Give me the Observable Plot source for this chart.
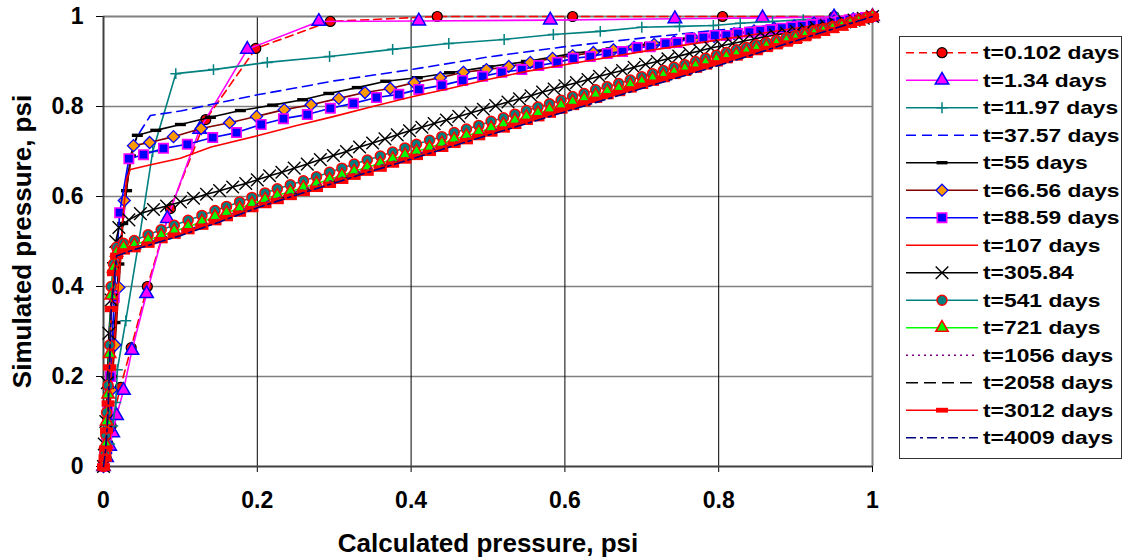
<!DOCTYPE html>
<html><head><meta charset="utf-8">
<script src="https://cdn.jsdelivr.net/npm/d3@7"></script>
<script src="https://cdn.jsdelivr.net/npm/@observablehq/plot@0.6"></script>
<style>
body{margin:0;background:#fff;}
#wrap{position:relative;width:1127px;height:559px;overflow:hidden;font-family:"Liberation Sans",Arial,sans-serif;background:#fff;}
#chart{position:absolute;left:0;top:0;}
#legend{position:absolute;left:899px;top:36px;}
</style></head>
<body><div id="wrap"><div id="chart"></div><svg id="legend" width="224" height="424"></svg></div>
<script>
// ---------- data ----------
const seriesNames = ["t=0.102 days","t=1.34 days","t=11.97 days","t=37.57 days","t=55 days","t=66.56 days","t=88.59 days","t=107 days","t=305.84","t=541 days","t=721 days","t=1056 days","t=2058 days","t=3012 days","t=4009 days"];
const xTickValues = [0,0.2,0.4,0.6,0.8,1];
const xTickLabels = ["0","0.2","0.4","0.6","0.8","1"];
const yTickValues = [0,0.2,0.4,0.6,0.8,1];
const yTickLabels = ["0","0.2","0.4","0.6","0.8","1"];

const x0102 = [0,0.003,0.006,0.01,0.022,0.036,0.057,0.087,0.133,0.198,0.295,0.434,0.61,0.805,0.95,1];
const y0102 = [0,0.02,0.05,0.09,0.176,0.264,0.40,0.573,0.771,0.929,0.989,1.0,1.0,1.0,1.0,1];

const x134 = [0,0.004,0.008,0.012,0.017,0.026,0.037,0.056,0.083,0.125,0.187,0.28,0.41,0.581,0.743,0.857,0.95,1];
const y134 = [0,0.02,0.045,0.075,0.113,0.169,0.258,0.384,0.551,0.749,0.927,0.989,0.99,0.992,0.995,0.997,0.999,1];

const x1197 = [0,0.004,0.008,0.012,0.016,0.018,0.029,0.045,0.064,0.094,0.143,0.213,0.294,0.376,0.449,0.521,0.585,0.646,0.70,0.749,0.793,0.828,0.87,0.91,0.955,1];
const y1197 = [0,0.02,0.05,0.09,0.142,0.215,0.324,0.49,0.70,0.873,0.882,0.898,0.911,0.927,0.94,0.949,0.96,0.967,0.976,0.978,0.98,0.985,0.989,0.993,0.997,1];

const x3757 = [0,0.005,0.01,0.02,0.03,0.04,0.048,0.061,0.1,0.2,0.256,0.3,0.4,0.5,0.6,0.7,0.8,0.9,1];
const y3757 = [0,0.08,0.2,0.45,0.64,0.72,0.745,0.78,0.79,0.826,0.843,0.857,0.882,0.91,0.933,0.952,0.97,0.985,1];

const x55 = [0,0.005,0.01,0.015,0.02,0.025,0.03,0.035,0.044,0.068,0.1,0.139,0.178,0.22,0.259,0.293,0.33,0.367,0.408,0.45,0.5,0.55,0.611,0.66,0.71,0.76,0.81,0.86,0.91,0.955,1];
const y55 = [0,0.08,0.2,0.32,0.45,0.54,0.613,0.69,0.736,0.747,0.76,0.776,0.791,0.803,0.815,0.829,0.842,0.856,0.864,0.875,0.888,0.9,0.918,0.928,0.94,0.95,0.96,0.97,0.98,0.99,1];

const x6656 = [0,0.003,0.006,0.01,0.015,0.02,0.027,0.039,0.06,0.091,0.127,0.164,0.199,0.235,0.27,0.306,0.34,0.373,0.404,0.438,0.468,0.498,0.527,0.555,0.584,0.61,0.637,0.663,0.69,0.716,0.742,0.768,0.794,0.82,0.846,0.872,0.898,0.924,0.95,0.975,1];
const y6656 = [0,0.03,0.08,0.17,0.27,0.398,0.591,0.713,0.72,0.733,0.751,0.764,0.778,0.793,0.804,0.818,0.831,0.84,0.853,0.864,0.876,0.882,0.889,0.898,0.907,0.913,0.92,0.926,0.932,0.938,0.944,0.95,0.956,0.962,0.968,0.974,0.979,0.985,0.99,0.995,1];

const x8859 = [0,0.002,0.004,0.006,0.009,0.014,0.021,0.033,0.052,0.078,0.109,0.142,0.173,0.205,0.234,0.265,0.295,0.325,0.355,0.384,0.41,0.44,0.467,0.493,0.518,0.544,0.566,0.59,0.611,0.633,0.655,0.675,0.694,0.711,0.731,0.746,0.763,0.78,0.795,0.81,0.825,0.84,0.854,0.868,0.882,0.895,0.908,0.921,0.934,0.946,0.958,0.97,0.981,0.991,1];
const y8859 = [0,0.03,0.07,0.13,0.2,0.376,0.564,0.684,0.693,0.707,0.716,0.731,0.742,0.76,0.773,0.782,0.796,0.807,0.82,0.827,0.838,0.847,0.858,0.867,0.876,0.882,0.891,0.898,0.907,0.911,0.918,0.922,0.931,0.933,0.94,0.942,0.951,0.953,0.958,0.958,0.962,0.965,0.968,0.971,0.974,0.977,0.979,0.982,0.984,0.987,0.99,0.993,0.995,0.998,1];

const x107 = [0,0.005,0.01,0.015,0.02,0.025,0.03,0.035,0.06,0.1,0.14,0.2,0.25,0.3,0.35,0.4,0.45,0.5,0.55,0.611,0.7,0.8,0.9,1];
const y107 = [0,0.08,0.2,0.3,0.42,0.55,0.64,0.66,0.67,0.685,0.71,0.735,0.757,0.778,0.8,0.821,0.84,0.86,0.878,0.896,0.922,0.948,0.974,1];

const x305 = [0,0.001,0.003,0.005,0.007,0.01,0.013,0.016,0.02,0.033,0.048,0.065,0.082,0.1,0.117,0.134,0.151,0.168,0.185,0.2,0.216,0.232,0.248,0.265,0.282,0.299,0.316,0.333,0.35,0.366,0.382,0.398,0.414,0.43,0.446,0.462,0.478,0.494,0.51,0.526,0.541,0.556,0.571,0.586,0.6,0.615,0.63,0.645,0.66,0.675,0.69,0.705,0.72,0.734,0.748,0.762,0.776,0.79,0.804,0.818,0.832,0.846,0.86,0.874,0.888,0.901,0.914,0.927,0.94,0.952,0.964,0.976,0.988,1];
const y305 = [0,0.05,0.1,0.186,0.296,0.37,0.44,0.5,0.531,0.548,0.562,0.571,0.579,0.588,0.596,0.605,0.613,0.621,0.629,0.637,0.646,0.654,0.663,0.672,0.682,0.691,0.7,0.71,0.719,0.728,0.737,0.746,0.754,0.762,0.77,0.778,0.786,0.794,0.802,0.81,0.817,0.824,0.832,0.839,0.846,0.853,0.86,0.867,0.874,0.88,0.887,0.894,0.9,0.906,0.912,0.918,0.924,0.93,0.935,0.94,0.945,0.95,0.955,0.959,0.963,0.967,0.971,0.975,0.98,0.984,0.988,0.992,0.996,1];

const xLow = [0,0.002,0.003,0.004,0.006,0.008,0.01,0.013,0.017,0.026,0.04,0.058,0.075,0.092,0.11,0.128,0.145,0.16,0.177,0.193,0.21,0.226,0.243,0.26,0.277,0.294,0.31,0.326,0.343,0.36,0.376,0.392,0.407,0.424,0.44,0.456,0.472,0.488,0.504,0.52,0.535,0.55,0.565,0.58,0.595,0.61,0.625,0.64,0.655,0.67,0.685,0.7,0.714,0.728,0.742,0.756,0.77,0.783,0.797,0.81,0.823,0.836,0.849,0.862,0.875,0.888,0.9,0.912,0.924,0.936,0.948,0.96,0.971,0.982,0.992,1];
const y541 = [0,0.03,0.07,0.12,0.18,0.27,0.4,0.45,0.487,0.496,0.502,0.515,0.526,0.536,0.547,0.558,0.569,0.578,0.588,0.598,0.608,0.617,0.626,0.635,0.644,0.654,0.663,0.672,0.681,0.69,0.699,0.708,0.716,0.725,0.733,0.742,0.75,0.758,0.767,0.775,0.783,0.791,0.799,0.806,0.814,0.822,0.829,0.837,0.844,0.851,0.859,0.866,0.873,0.88,0.887,0.893,0.9,0.907,0.914,0.92,0.926,0.931,0.937,0.942,0.947,0.953,0.958,0.963,0.968,0.973,0.978,0.983,0.988,0.992,0.997,1];
const y721 = [0,0.02,0.05,0.1,0.16,0.25,0.38,0.44,0.475,0.487,0.492,0.503,0.513,0.523,0.533,0.544,0.555,0.564,0.574,0.584,0.593,0.602,0.611,0.62,0.629,0.638,0.647,0.656,0.665,0.674,0.683,0.692,0.7,0.709,0.718,0.727,0.735,0.743,0.752,0.76,0.769,0.777,0.785,0.793,0.802,0.81,0.817,0.825,0.833,0.84,0.848,0.855,0.862,0.869,0.876,0.883,0.89,0.897,0.904,0.91,0.916,0.922,0.928,0.934,0.94,0.946,0.951,0.957,0.962,0.967,0.973,0.978,0.984,0.989,0.995,1];
const y3012 = [0,0.02,0.04,0.08,0.14,0.22,0.35,0.43,0.468,0.478,0.483,0.493,0.503,0.513,0.523,0.533,0.543,0.552,0.562,0.572,0.581,0.59,0.599,0.608,0.617,0.626,0.635,0.644,0.653,0.662,0.671,0.68,0.688,0.697,0.706,0.715,0.723,0.732,0.74,0.749,0.757,0.766,0.774,0.782,0.791,0.799,0.807,0.815,0.823,0.83,0.838,0.846,0.853,0.861,0.868,0.875,0.882,0.889,0.896,0.903,0.909,0.915,0.921,0.928,0.934,0.94,0.946,0.952,0.958,0.964,0.97,0.976,0.982,0.988,0.994,1];

const xLine = [0,0.003,0.006,0.01,0.017,0.04,0.1,0.15,0.2,0.25,0.3,0.35,0.4,0.45,0.5,0.6,0.7,0.8,0.9,1];
const y1056 = [0,0.05,0.15,0.37,0.472,0.488,0.52,0.55,0.582,0.61,0.637,0.664,0.69,0.717,0.743,0.795,0.846,0.896,0.948,1];
const y2058 = [0,0.04,0.13,0.36,0.47,0.485,0.516,0.546,0.578,0.606,0.633,0.66,0.686,0.713,0.739,0.791,0.843,0.894,0.947,1];
const y4009 = [0,0.04,0.12,0.35,0.468,0.482,0.513,0.543,0.575,0.603,0.63,0.657,0.683,0.71,0.736,0.788,0.84,0.891,0.946,1];

// ---------- styles ----------
const dashBlack = {draw(ctx){ctx.moveTo(-5.5,-1.7);ctx.lineTo(5.5,-1.7);ctx.lineTo(5.5,1.7);ctx.lineTo(-5.5,1.7);ctx.closePath();}};
const dashRed = {draw(ctx){ctx.moveTo(-6.5,-3.2);ctx.lineTo(6.5,-3.2);ctx.lineTo(6.5,3.2);ctx.lineTo(-6.5,3.2);ctx.closePath();}};
const dashRedLegend = {draw(ctx){ctx.moveTo(-6,-2.4);ctx.lineTo(6,-2.4);ctx.lineTo(6,2.4);ctx.lineTo(-6,2.4);ctx.closePath();}};
const d3sym = {circle:d3.symbolCircle, triangle:d3.symbolTriangle, plus:d3.symbolPlus, times:d3.symbolTimes, diamond2:d3.symbolDiamond2, square:d3.symbolSquare};

const rows = (xs, ys) => xs.map((x,i)=>({x, y: ys[i]}));
const dataList = [rows(x0102,y0102),rows(x134,y134),rows(x1197,y1197),rows(x3757,y3757),rows(x55,y55),rows(x6656,y6656),rows(x8859,y8859),rows(x107,y107),rows(x305,y305),rows(xLow,y541),rows(xLow,y721),rows(xLine,y1056),rows(xLine,y2058),rows(xLow,y3012),rows(xLine,y4009)];
const styleList = [
  {color:"#FF0000", dash:"8,5", symbol:"circle", r:5, fill:"#FF0000", ms:"#000000", msw:1.2},
  {color:"#FF00FF", dash:null, symbol:"triangle", r:5, fill:"#FF00FF", ms:"#0000FF", msw:1.5},
  {color:"#008080", dash:null, symbol:"plus", r:3.6, fill:"none", ms:"#008080", msw:1.5},
  {color:"#0000FF", dash:"10,6", symbol:null},
  {color:"#000000", dash:null, symbol:dashBlack, r:4, fill:"#000000", ms:"none", msw:0},
  {color:"#800000", dash:null, symbol:"diamond2", r:5.4, fill:"#FF9900", ms:"#0000FF", msw:1.3},
  {color:"#0000FF", dash:null, symbol:"square", r:5.3, fill:"#0000FF", ms:"#FF00FF", msw:1.6},
  {color:"#FF0000", dash:null, symbol:null},
  {color:"#000000", dash:null, symbol:"times", r:5.8, fill:"none", ms:"#000000", msw:1.4},
  {color:"#008080", dash:null, symbol:"circle", r:5, fill:"#008080", ms:"#FF0000", msw:1.5},
  {color:"#00FF00", dash:null, symbol:"triangle", r:4.6, fill:"#00FF00", ms:"#FF0000", msw:1.5},
  {color:"#800080", dash:"2,4", symbol:null},
  {color:"#000000", dash:"12,6", symbol:null},
  {color:"#FF0000", dash:null, symbol:dashRed, legendSymbol:dashRedLegend, r:4, fill:"#FF0000", ms:"none", msw:0},
  {color:"#000080", dash:"10,4,3,4", symbol:null}
];

// ---------- chart ----------
const marks = [
  Plot.gridY([0.2,0.4,0.6,0.8], {stroke:"#808080", strokeOpacity:1, strokeWidth:1.6}),
  Plot.gridX([0.2,0.4,0.6,0.8], {stroke:"#000000", strokeOpacity:1, strokeWidth:1}),
  Plot.ruleY([1], {stroke:"#808080", strokeWidth:2}),
  Plot.ruleX([1], {stroke:"#808080", strokeWidth:2}),
  Plot.axisX({ticks:xTickValues, tickFormat:(d,i)=>xTickLabels[i], tickSize:6, tickPadding:19, label:null, fontSize:23, fontWeight:"bold"}),
  Plot.axisY({ticks:yTickValues, tickFormat:(d,i)=>yTickLabels[i], tickSize:7, tickPadding:13, label:null, fontSize:23, fontWeight:"bold"}),
  Plot.ruleX([0], {stroke:"#404040", strokeWidth:2}),
  Plot.ruleY([0], {stroke:"#404040", strokeWidth:2}),
  Plot.text(["Calculated pressure, psi"], {frameAnchor:"bottom", dy:77, lineAnchor:"middle", textAnchor:"middle", text:d=>d, fontSize:26, fontWeight:"bold"}),
  Plot.text(["Simulated pressure, psi"], {frameAnchor:"left", dx:-81, rotate:-90, lineAnchor:"middle", textAnchor:"middle", text:d=>d, fontSize:26, fontWeight:"bold"})
];
dataList.forEach((data,i)=>{
  const s = styleList[i];
  marks.push(Plot.line(data, {x:"x", y:"y", stroke:s.color, strokeWidth:1.6, strokeDasharray:s.dash}));
  if (s.symbol) marks.push(Plot.dot(data, {x:"x", y:"y", symbol:s.symbol, r:s.r, fill:s.fill, stroke:s.ms, strokeWidth:s.msw}));
});

const chart = Plot.plot({
  width:890, height:559,
  marginTop:16, marginBottom:93, marginLeft:103, marginRight:18,
  x:{domain:[0,1]}, y:{domain:[0,1]},
  style:{fontFamily:"'Liberation Sans', Arial, sans-serif", fontWeight:"bold", fontSize:"23px", background:"#fff", color:"#000", overflow:"visible"},
  marks
});
document.getElementById("chart").appendChild(chart);

// ---------- legend ----------
const lg = d3.select("#legend");
lg.append("rect").attr("x",0.5).attr("y",0.5).attr("width",222).attr("height",422).attr("fill","#fff").attr("stroke","#333").attr("stroke-width",1);
seriesNames.forEach((name,i)=>{
  const s = styleList[i];
  const cy = 16.7 + i*27.5;
  lg.append("line").attr("x1",7).attr("x2",79).attr("y1",cy).attr("y2",cy)
    .attr("stroke",s.color).attr("stroke-width",1.6).attr("stroke-dasharray",s.dash);
  if (s.symbol) {
    const sym = s.legendSymbol || s.symbol;
    const type = typeof sym === "string" ? d3sym[sym] : sym;
    lg.append("path").attr("transform",`translate(43,${cy})`)
      .attr("d", d3.symbol(type, Math.PI*s.r*s.r)())
      .attr("fill",s.fill).attr("stroke",s.ms).attr("stroke-width",s.msw);
  }
  lg.append("text").attr("transform",`translate(84,${cy}) scale(1.27,1)`)
    .attr("dy","0.36em").attr("font-size",18).attr("font-weight","bold")
    .attr("font-family","'Liberation Sans', Arial, sans-serif").text(name);
});
</script>
</body></html>
